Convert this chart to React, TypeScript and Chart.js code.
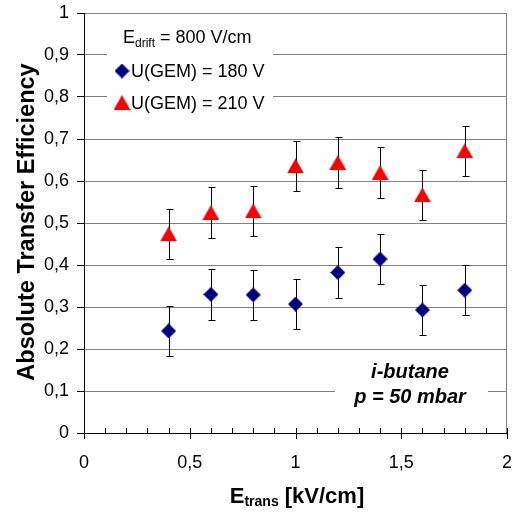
import React, { useEffect, useRef } from 'react';
import { Chart, registerables } from 'chart.js';

Chart.register(...registerables);

// ---- data ----
const transField = [0.4, 0.6, 0.8, 1.0, 1.2, 1.4, 1.6, 1.8];
const eff180 = [0.243, 0.33, 0.329, 0.307, 0.382, 0.414, 0.293, 0.34];
const err180 = [0.06, 0.06, 0.06, 0.06, 0.06, 0.06, 0.06, 0.06];
const eff210 = [0.474, 0.525, 0.529, 0.636, 0.644, 0.62, 0.567, 0.672];
const err210 = [0.06, 0.06, 0.06, 0.06, 0.06, 0.06, 0.06, 0.06];
const seriesLabels = ['U(GEM) = 180 V', 'U(GEM) = 210 V'];
const xTickValues = [0, 0.5, 1, 1.5, 2];
const yTickValues = [0, 0.1, 0.2, 0.3, 0.4, 0.5, 0.6, 0.7, 0.8, 0.9, 1];

const BLUE = '#000080';
const RED = '#ff0000';
const GRID = '#808080';
const FONT = '"Liberation Sans", Arial, sans-serif';

const fmt = (v: number) => {
  const r = Math.round(v * 10) / 10;
  if (r === 0) return '0';
  if (r === 1) return '1';
  if (r === 2) return '2';
  return String(r).replace('.', ',');
};

function makeDiamond(): HTMLCanvasElement {
  const c = document.createElement('canvas');
  c.width = 15; c.height = 15;
  const g = c.getContext('2d')!;
  g.fillStyle = BLUE;
  g.beginPath();
  g.moveTo(7.5, 0); g.lineTo(15, 7.5); g.lineTo(7.5, 15); g.lineTo(0, 7.5);
  g.closePath(); g.fill();
  return c;
}
function makeTriangle(): HTMLCanvasElement {
  const c = document.createElement('canvas');
  c.width = 17; c.height = 15;
  const g = c.getContext('2d')!;
  g.fillStyle = RED;
  g.beginPath();
  g.moveTo(8.5, 0); g.lineTo(17, 15); g.lineTo(0, 15);
  g.closePath(); g.fill();
  return c;
}

export default function App() {
  const ref = useRef<HTMLCanvasElement | null>(null);

  useEffect(() => {
    if (!ref.current) return;
    const diamond = makeDiamond();
    const triangle = makeTriangle();

    const errorBars = {
      id: 'errorBars',
      beforeDatasetsDraw(chart: any) {
        const { ctx, scales } = chart;
        const x = scales.x, y = scales.y;
        ctx.save();
        ctx.strokeStyle = '#000';
        ctx.lineWidth = 1;
        const sets: [number[], number[]][] = [[eff180, err180], [eff210, err210]];
        sets.forEach(([vals, errs]) => {
          vals.forEach((v, i) => {
            const px = Math.round(x.getPixelForValue(transField[i])) + 0.5;
            const top = Math.round(y.getPixelForValue(v + errs[i])) + 0.5;
            const bot = Math.round(y.getPixelForValue(v - errs[i])) + 0.5;
            ctx.beginPath();
            ctx.moveTo(px, top); ctx.lineTo(px, bot);
            ctx.moveTo(px - 3, top); ctx.lineTo(px + 4, top);
            ctx.moveTo(px - 3, bot); ctx.lineTo(px + 4, bot);
            ctx.stroke();
          });
        });
        ctx.restore();
      },
    };

    const decorations = {
      id: 'decorations',
      afterDatasetsDraw(chart: any) {
        const { ctx, chartArea, scales } = chart;
        const x = scales.x;
        ctx.save();
        // right border
        ctx.strokeStyle = GRID;
        ctx.lineWidth = 1;
        ctx.beginPath();
        ctx.moveTo(Math.round(chartArea.right) - 0.5, chartArea.top);
        ctx.lineTo(Math.round(chartArea.right) - 0.5, chartArea.bottom);
        ctx.stroke();
        // x ticks (major + minor)
        ctx.strokeStyle = '#000';
        const b = Math.round(chartArea.bottom);
        for (let k = 0; k <= 20; k++) {
          const v = k / 10;
          const px = Math.round(x.getPixelForValue(v)) + 0.5;
          const major = k % 5 === 0;
          ctx.beginPath();
          ctx.moveTo(px, b - 5);
          ctx.lineTo(px, major ? b + 6 : b);
          ctx.stroke();
        }

        // legend box
        ctx.fillStyle = '#fff';
        ctx.fillRect(107, 22, 166, 94);
        ctx.fillStyle = '#000';
        ctx.textBaseline = 'alphabetic';
        ctx.textAlign = 'left';
        let cx = 123;
        ctx.font = `18px ${FONT}`;
        ctx.fillText('E', cx, 43);
        cx += ctx.measureText('E').width;
        ctx.font = `12px ${FONT}`;
        ctx.fillText('drift', cx, 47);
        cx += ctx.measureText('drift').width;
        ctx.font = `18px ${FONT}`;
        ctx.fillText(' = 800 V/cm', cx, 43);

        ctx.drawImage(diamond, 122 - diamond.width / 2, 71 - diamond.height / 2);
        ctx.fillText(seriesLabels[0], 131, 77);
        ctx.drawImage(triangle, 122 - triangle.width / 2, 102.5 - triangle.height / 2);
        ctx.fillText(seriesLabels[1], 131, 108.5);

        // annotation box
        ctx.fillStyle = '#fff';
        ctx.fillRect(335, 358, 153, 56);
        ctx.fillStyle = '#000';
        ctx.textAlign = 'center';
        ctx.font = `italic bold 20px ${FONT}`;
        ctx.fillText('i-butane', 410, 378);
        ctx.fillText('p = 50 mbar', 410, 403);

        // x title
        ctx.textAlign = 'left';
        const big = `bold 22px ${FONT}`;
        const small = `bold 14px ${FONT}`;
        ctx.font = big;
        const wE = ctx.measureText('E').width;
        const wRest = ctx.measureText(' [kV/cm]').width;
        ctx.font = small;
        const wSub = ctx.measureText('trans').width;
        let sx = 297 - (wE + wSub + wRest) / 2;
        ctx.font = big;
        ctx.fillText('E', sx, 503);
        sx += wE;
        ctx.font = small;
        ctx.fillText('trans', sx, 506);
        sx += wSub;
        ctx.font = big;
        ctx.fillText(' [kV/cm]', sx, 503);

        // y title
        ctx.save();
        ctx.translate(34, 222);
        ctx.rotate(-Math.PI / 2);
        ctx.textAlign = 'center';
        ctx.font = `bold 23.5px ${FONT}`;
        ctx.fillText('Absolute Transfer Efficiency', 0, 0);
        ctx.restore();

        ctx.restore();
      },
    };

    const chart = new Chart(ref.current, {
      type: 'scatter',
      data: {
        datasets: [
          {
            label: seriesLabels[0],
            data: transField.map((t, i) => ({ x: t, y: eff180[i] })),
            pointStyle: diamond as any,
            pointRadius: 7,
            backgroundColor: BLUE,
            borderColor: BLUE,
            showLine: false,
          },
          {
            label: seriesLabels[1],
            data: transField.map((t, i) => ({ x: t, y: eff210[i] })),
            pointStyle: triangle as any,
            pointRadius: 8,
            backgroundColor: RED,
            borderColor: RED,
            showLine: false,
          },
        ],
      },
      options: {
        animation: false,
        responsive: true,
        maintainAspectRatio: false,
        layout: { autoPadding: false, padding: { top: 13, right: 5, left: 0, bottom: 0 } },
        plugins: {
          legend: { display: false },
          tooltip: { enabled: false },
          title: { display: false },
        },
        scales: {
          x: {
            type: 'linear',
            min: 0,
            max: 2,
            afterBuildTicks: (s: any) => { s.ticks = xTickValues.map((v) => ({ value: v })); },
            afterFit: (s: any) => { s.height = 81; s.paddingLeft = 0; s.paddingRight = 0; },
            ticks: {
              callback: (v: any) => fmt(Number(v)),
              font: { family: FONT, size: 18 },
              color: '#000',
              padding: 19,
              maxRotation: 0,
              autoSkip: false,
            },
            grid: { drawOnChartArea: false, drawTicks: false },
            border: { display: true, color: '#000', width: 1 },
          },
          y: {
            type: 'linear',
            min: 0,
            max: 1,
            afterBuildTicks: (s: any) => { s.ticks = yTickValues.map((v) => ({ value: v })); },
            afterFit: (s: any) => { s.width = 84; s.paddingTop = 0; s.paddingBottom = 0; },
            ticks: {
              callback: (v: any) => fmt(Number(v)),
              font: { family: FONT, size: 18 },
              color: '#000',
              padding: 8,
              autoSkip: false,
            },
            grid: { color: GRID, lineWidth: 1, tickLength: 7, tickColor: '#000', drawTicks: true },
            border: { display: true, color: '#000', width: 1 },
          },
        },
      },
      plugins: [errorBars, decorations],
    });
    return () => chart.destroy();
  }, []);

  return (
    <div style={{ position: 'fixed', left: 0, top: 0, width: 512, height: 514, background: '#fff' }}>
      <canvas ref={ref} />
    </div>
  );
}
